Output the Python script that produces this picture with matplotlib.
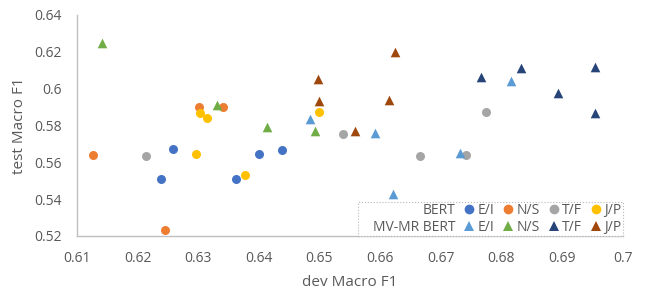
import matplotlib.pyplot as plt
from matplotlib.lines import Line2D

plt.rcParams["font.family"] = ["Open Sans", "DejaVu Sans"]

# BERT (circles)
bert_ei_x = [0.6239, 0.6259, 0.6363, 0.6401, 0.6439]
bert_ei_y = [0.5510, 0.5674, 0.5510, 0.5643, 0.5668]
bert_ns_x = [0.6126, 0.6246, 0.6302, 0.6341]
bert_ns_y = [0.5641, 0.5232, 0.5900, 0.5900]
bert_tf_x = [0.6214, 0.6539, 0.6665, 0.6741, 0.6774]
bert_tf_y = [0.5635, 0.5755, 0.5632, 0.5637, 0.5875]
bert_jp_x = [0.6297, 0.6303, 0.6315, 0.6378, 0.6500]
bert_jp_y = [0.5646, 0.5870, 0.5840, 0.5532, 0.5873]

# MV-MR BERT (triangles)
mv_ei_x = [0.6484, 0.6591, 0.6622, 0.6731, 0.6815]
mv_ei_y = [0.5837, 0.5761, 0.5428, 0.5650, 0.6044]
mv_ns_x = [0.6142, 0.6331, 0.6414, 0.6493]
mv_ns_y = [0.6249, 0.5910, 0.5791, 0.5768]
mv_tf_x = [0.6767, 0.6833, 0.6893, 0.6955, 0.6954]
mv_tf_y = [0.6064, 0.6110, 0.5977, 0.6118, 0.5868]
mv_jp_x = [0.6497, 0.6500, 0.6558, 0.6615, 0.6624]
mv_jp_y = [0.6053, 0.5933, 0.5770, 0.5937, 0.6197]

labels = ["E/I", "N/S", "T/F", "J/P"]
bert_colors = ["#4472C4", "#ED7D31", "#A5A5A5", "#FFC000"]
mv_colors = ["#5B9BD5", "#70AD47", "#264478", "#9E480E"]

bert = [(bert_ei_x, bert_ei_y), (bert_ns_x, bert_ns_y), (bert_tf_x, bert_tf_y), (bert_jp_x, bert_jp_y)]
mv = [(mv_ei_x, mv_ei_y), (mv_ns_x, mv_ns_y), (mv_tf_x, mv_tf_y), (mv_jp_x, mv_jp_y)]

fig = plt.figure(figsize=(6.46, 2.99), dpi=100)
ax = fig.add_axes([0.119, 0.211, 0.845, 0.739])

for (xs, ys), c in zip(bert, bert_colors):
    ax.scatter(xs, ys, s=42, marker="o", color=c, linewidths=0, zorder=3)
for (xs, ys), c in zip(mv, mv_colors):
    ax.scatter(xs, ys, s=48, marker="^", color=c, linewidths=0, zorder=3)

ax.set_xlim(0.61, 0.70)
ax.set_ylim(0.52, 0.64)
ax.set_xticks([0.61 + 0.01 * i for i in range(10)])
ax.set_xticklabels(["0.61", "0.62", "0.63", "0.64", "0.65", "0.66", "0.67", "0.68", "0.69", "0.7"])
ax.set_yticks([0.52, 0.54, 0.56, 0.58, 0.6, 0.62, 0.64])
ax.set_yticklabels(["0.52", "0.54", "0.56", "0.58", "0.6", "0.62", "0.64"])
ax.tick_params(length=0, labelsize=10, colors="#595959", pad=11)

for side in ["top", "right"]:
    ax.spines[side].set_visible(False)
for side in ["left", "bottom"]:
    ax.spines[side].set_color("#BFBFBF")
    ax.spines[side].set_linewidth(1)

ax.set_xlabel("dev Macro F1", fontsize=11, color="#595959", labelpad=6)
ax.set_ylabel("test Macro F1", fontsize=11, color="#595959", labelpad=5)

# legend: row label column followed by four class columns
blank = Line2D([], [], linestyle="none", marker=None)
handles = [blank, blank]
names = ["BERT", "MV-MR BERT"]
for i in range(4):
    handles.append(Line2D([], [], linestyle="none", marker="o", markersize=7,
                          color=bert_colors[i], markeredgewidth=0))
    handles.append(Line2D([], [], linestyle="none", marker="^", markersize=7,
                          color=mv_colors[i], markeredgewidth=0))
    names += [labels[i], labels[i]]

leg = ax.legend(handles, names, ncol=5, loc="lower right", bbox_to_anchor=(1.0, 0.0),
                borderaxespad=0, fontsize=10, handlelength=0.7, handletextpad=0.25,
                columnspacing=0.65, labelspacing=0.1, borderpad=0.1,
                fancybox=False, frameon=True)
for t in leg.get_texts():
    t.set_color("#595959")
frame = leg.get_frame()
frame.set_linestyle(":")
frame.set_edgecolor("#A6A6A6")
frame.set_linewidth(0.8)
leg._legend_handle_box.get_children()[0].align = "right"

fig.savefig("out.png", dpi=100)
